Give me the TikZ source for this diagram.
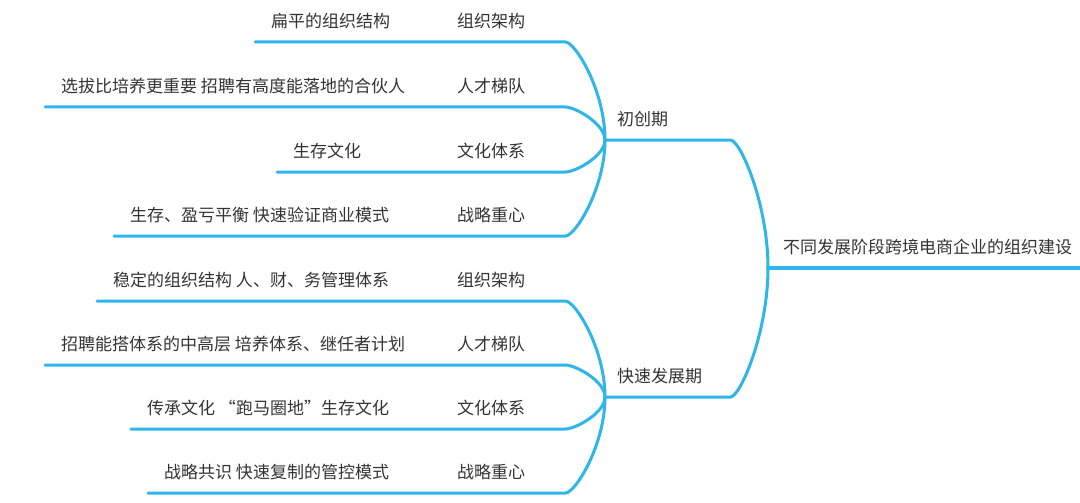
\documentclass[tikz,border=0pt]{standalone}
\usepackage{fontspec}
\setmainfont{Noto Sans CJK SC}
\definecolor{mapblue}{HTML}{2EB5EA}
\definecolor{textgray}{HTML}{333333}

\begin{document}
\begin{tikzpicture}[x=1pt,y=-1pt,
                every node/.style={font=\fontsize{17}{20}\selectfont,text=textgray,
                  inner ysep=0pt,minimum height=42pt,anchor=south west,align=left},
                main node/.style={inner xsep=15pt,text width=282pt},
                stage node/.style={inner xsep=12pt,text width=101pt},
                item node/.style={inner xsep=16pt,text width=92pt},
                detail node/.style={inner xsep=16pt},
                branch/.style={draw=mapblue,line width=3pt,line cap=round}]
                \useasboundingbox (0,0) rectangle (1080,503);

                \node[main node] (0) at (768,268) {不同发展阶段跨境电商企业的组织建设};
                \node[stage node] (1) at (605,140) {初创期};
                \node[stage node] (2) at (605,397) {快速发展期};

                \node[item node] (11) at (441,42) {组织架构};
                \node[item node] (12) at (441,107) {人才梯队};
                \node[item node] (13) at (441,172) {文化体系};
                \node[item node] (14) at (441,236) {战略重心};
                \node[item node] (21) at (441,301) {组织架构};
                \node[item node] (22) at (441,365) {人才梯队};
                \node[item node] (23) at (441,429) {文化体系};
                \node[item node] (24) at (441,493) {战略重心};

                \node[detail node] (11d) at (255,42) {扁平的组织结构};
                \node[detail node] (12d) at (45,107) {选拔比培养更重要 招聘有高度能落地的合伙人};
                \node[detail node] (13d) at (277,172) {生存文化};
                \node[detail node] (14d) at (114,236) {生存、盈亏平衡 快速验证商业模式};
                \node[detail node] (21d) at (97,301) {稳定的组织结构 人、财、务管理体系};
                \node[detail node] (22d) at (45,365) {招聘能搭体系的中高层 培养体系、继任者计划};
                \node[detail node] (23d) at (131,429) {传承文化 “跑马圈地”生存文化};
                \node[detail node] (24d) at (148,493) {战略共识 快速复制的管控模式};

                % root and stages
                \draw[branch,line width=3.6pt] (0.south west) -- (0.south east);
                \draw[branch] (1.south west) -- (1.south east) .. controls +(10,0) and +(0,-64) .. (0.south west);
                \draw[branch] (2.south west) -- (2.south east) .. controls +(10,0) and +(0,64) .. (0.south west);

                % first stage
                \draw[branch] (11d.south west) -- (11.south east) .. controls +(10,0) and +(0,-49) .. (1.south west);
                \draw[branch] (12d.south west) -- (12.south east) .. controls +(10,0) and +(0,-16) .. (1.south west);
                \draw[branch] (13d.south west) -- (13.south east) .. controls +(10,0) and +(0,16) .. (1.south west);
                \draw[branch] (14d.south west) -- (14.south east) .. controls +(10,0) and +(0,48) .. (1.south west);

                % second stage
                \draw[branch] (21d.south west) -- (21.south east) .. controls +(10,0) and +(0,-48) .. (2.south west);
                \draw[branch] (22d.south west) -- (22.south east) .. controls +(10,0) and +(0,-16) .. (2.south west);
                \draw[branch] (23d.south west) -- (23.south east) .. controls +(10,0) and +(0,16) .. (2.south west);
                \draw[branch] (24d.south west) -- (24.south east) .. controls +(10,0) and +(0,48) .. (2.south west);
\end{tikzpicture}
\end{document}
